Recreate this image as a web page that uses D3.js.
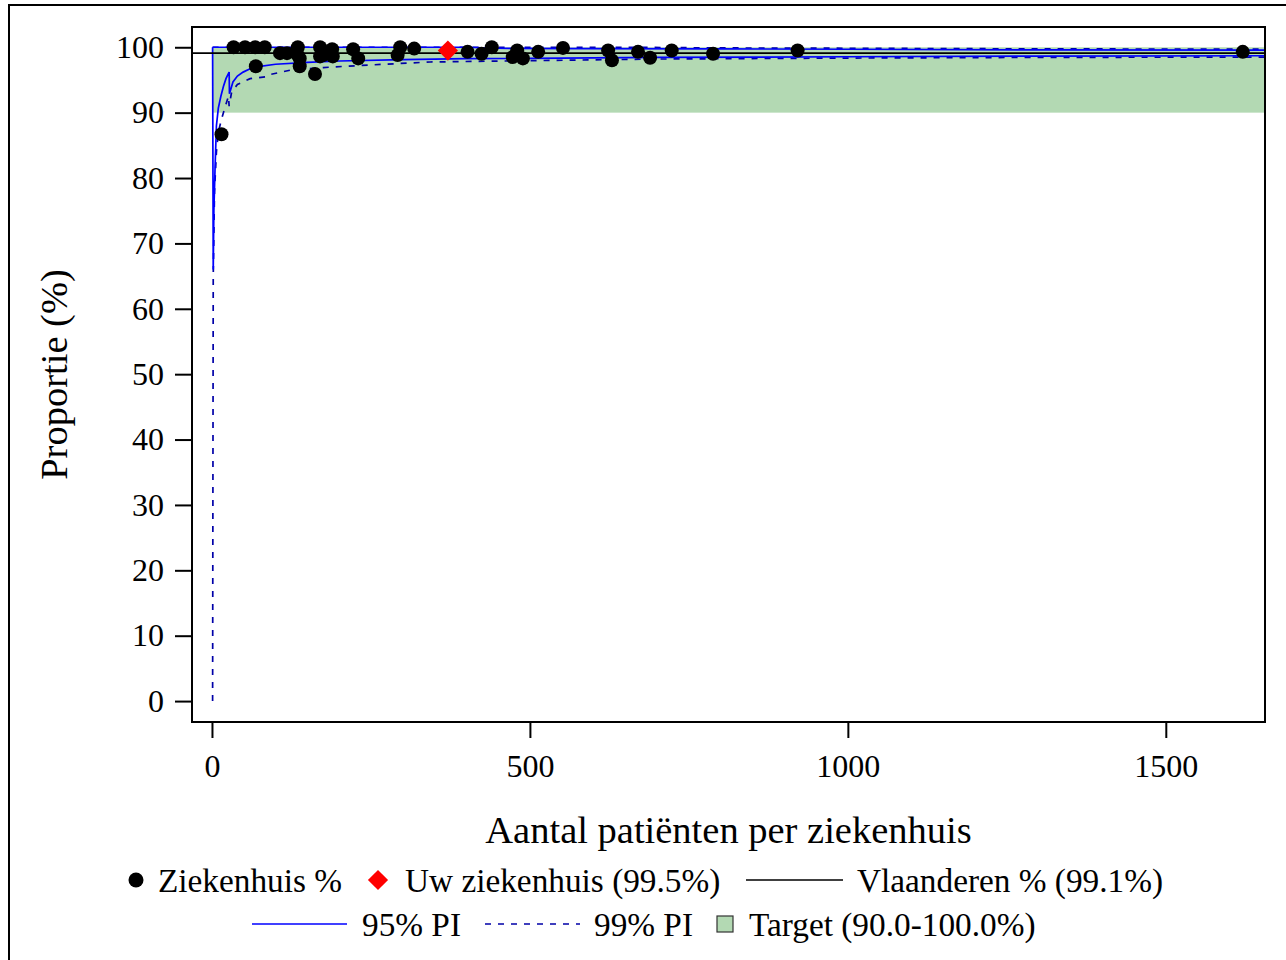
<!DOCTYPE html>
<html>
<head>
<meta charset="utf-8">
<script src="https://cdn.jsdelivr.net/npm/d3@7"></script>
<style>
  body { margin: 0; background: #fff; }
  svg, svg text { font-family: "Liberation Serif", "Times New Roman", serif; }
</style>
</head>
<body>
<div id="chart"></div>
<script>
// ── Data ─────────────────────────────────────────────────────────────────────
const hospitalN   = [15, 34, 52, 68, 83, 69, 107, 118, 135, 135, 138, 138, 162, 170, 170, 175, 189, 190,
                     222, 230, 292, 296, 318, 402, 424, 440, 480, 473, 489, 513, 552, 623, 629, 670,
                     689, 723, 788, 921, 1621];
const hospitalPct = [86.7, 100, 100, 100, 100, 97.1, 99.1, 99.1, 100, 98.8, 98.3, 97.1, 95.9, 100, 98.6, 98.8, 99.7, 98.6,
                     99.7, 98.3, 98.8, 100, 99.8, 99.3, 99.0, 100, 99.5, 98.5, 98.3, 99.3, 99.9, 99.5, 98.0, 99.3,
                     98.4, 99.5, 99.0, 99.5, 99.3];

const ownHospital = { n: 371, pct: 99.5 };
const flandersPct = 99.1;
const targetRange = [90, 100];

// prediction limits, sampled along n
const lower95N   = [1, 2, 3, 5, 7, 10, 14, 18, 22, 27, 27.5, 33, 40, 49, 60, 70, 100, 150, 200, 300, 400, 500, 700, 1000, 1300, 1656];
const lower95Pct = [100, 66, 75, 82, 88, 90.7, 92.5, 94.0, 95.2, 96.2, 92.9, 94.7, 95.6, 96.2, 96.7, 97.0, 97.4, 97.7, 97.9, 98.1, 98.25, 98.3, 98.45, 98.55, 98.65, 98.7];

const lower99N   = [1, 2, 4, 7, 10, 15, 18, 23, 26, 27, 31, 40, 60, 86, 90, 123, 175, 250, 343, 500, 700, 1000, 1300, 1656];
const lower99Pct = [0, 65, 78, 84, 87, 89, 90, 91.6, 92.5, 91, 93.2, 94.3, 95.2, 95.5, 95.8, 96.5, 96.9, 97.3, 97.75, 97.95, 98.2, 98.35, 98.45, 98.5];

const upper95N   = [1, 400, 450, 600, 800, 1000, 1300, 1656];
const upper95Pct = [100, 100, 99.85, 99.8, 99.75, 99.7, 99.6, 99.55];

const upper99N   = [1, 650, 800, 1000, 1300, 1656];
const upper99Pct = [100, 100, 99.9, 99.85, 99.75, 99.72];

const xTicks = [0, 500, 1000, 1500];
const yTicks = [0, 10, 20, 30, 40, 50, 60, 70, 80, 90, 100];

const xTitle = 'Aantal patiënten per ziekenhuis';
const yTitle = 'Proportie (%)';

// ── Layout ───────────────────────────────────────────────────────────────────
const W = 1286, H = 960;
const plot = { left: 192, right: 1265, top: 27, bottom: 722 };
const SERIF = '"Liberation Serif", "Times New Roman", serif';

const BLUE = '#0000ff';
const NAVY = '#0000a8';
const GREEN = '#b3d9b3';

const svg = d3.select('#chart').append('svg')
  .attr('width', W)
  .attr('height', H);

// outer frame (runs off the right and bottom edges)
svg.append('rect')
  .attr('x', 9).attr('y', 5)
  .attr('width', 1300).attr('height', 1000)
  .attr('fill', 'none')
  .attr('stroke', '#000')
  .attr('stroke-width', 2);

const x = d3.scaleLinear().domain([-31.4, 1656]).range([plot.left, plot.right]);
const y = d3.scaleLinear().domain([-3.2, 103.1]).range([plot.bottom, plot.top]);

const defs = svg.append('defs');
defs.append('clipPath').attr('id', 'clip')
  .append('rect')
  .attr('x', plot.left).attr('y', plot.top)
  .attr('width', plot.right - plot.left).attr('height', plot.bottom - plot.top);

const g = svg.append('g').attr('clip-path', 'url(#clip)');

// target band
g.append('rect')
  .attr('x', x(0))
  .attr('y', y(targetRange[1]))
  .attr('width', x(x.domain()[1]) - x(0))
  .attr('height', y(targetRange[0]) - y(targetRange[1]))
  .attr('fill', GREEN);

// ── Prediction limits ────────────────────────────────────────────────────────
const line = d3.line().x(d => x(d[0])).y(d => y(d[1]));

const limits = [
  { pts: d3.zip(upper99N, upper99Pct), color: NAVY, dash: '6,7' },
  { pts: d3.zip(lower99N, lower99Pct), color: NAVY, dash: '6,7' },
  { pts: d3.zip(upper95N, upper95Pct), color: BLUE, dash: null },
  { pts: d3.zip(lower95N, lower95Pct), color: BLUE, dash: null }
];

g.selectAll('path.limit')
  .data(limits)
  .join('path')
  .attr('class', 'limit')
  .attr('d', d => line(d.pts))
  .attr('fill', 'none')
  .attr('stroke', d => d.color)
  .attr('stroke-width', 1.7)
  .attr('stroke-dasharray', d => d.dash);

// Flanders average
g.append('line')
  .attr('x1', plot.left).attr('x2', plot.right)
  .attr('y1', y(flandersPct)).attr('y2', y(flandersPct))
  .attr('stroke', '#000')
  .attr('stroke-width', 1.6);

// hospitals
g.selectAll('circle.hosp')
  .data(d3.zip(hospitalN, hospitalPct))
  .join('circle')
  .attr('class', 'hosp')
  .attr('cx', d => x(d[0]))
  .attr('cy', d => y(d[1]))
  .attr('r', 7)
  .attr('fill', '#000');

// own hospital (diamond)
const diamond = d3.symbol().type(d3.symbolDiamond2).size(260);
g.append('path')
  .attr('d', diamond())
  .attr('transform', `translate(${x(ownHospital.n)},${y(ownHospital.pct)})`)
  .attr('fill', '#ff0000');

// ── Axes ─────────────────────────────────────────────────────────────────────
svg.append('rect')
  .attr('x', plot.left).attr('y', plot.top)
  .attr('width', plot.right - plot.left).attr('height', plot.bottom - plot.top)
  .attr('fill', 'none')
  .attr('stroke', '#000')
  .attr('stroke-width', 2);

const xAxis = svg.append('g')
  .attr('transform', `translate(0,${plot.bottom})`)
  .call(d3.axisBottom(x).tickValues(xTicks).tickSize(16).tickPadding(16).tickFormat(d3.format('d')));
const yAxis = svg.append('g')
  .attr('transform', `translate(${plot.left},0)`)
  .call(d3.axisLeft(y).tickValues(yTicks).tickSize(17).tickPadding(11).tickFormat(d3.format('d')));

[xAxis, yAxis].forEach(ax => {
  ax.attr('font-family', null).attr('font-size', null);
  ax.select('.domain').remove();
  ax.selectAll('.tick line').attr('stroke', '#000').attr('stroke-width', 2);
  ax.selectAll('.tick text')
    .attr('fill', '#000')
    .style('font-family', SERIF)
    .style('font-size', '32px');
});

svg.append('text')
  .attr('x', (plot.left + plot.right) / 2)
  .attr('y', 843)
  .attr('text-anchor', 'middle')
  .attr('font-size', 38.5)
  .text(xTitle);

svg.append('text')
  .attr('transform', `translate(67,${(plot.top + plot.bottom) / 2}) rotate(-90)`)
  .attr('text-anchor', 'middle')
  .attr('font-size', 38.5)
  .text(yTitle);

// ── Legend ───────────────────────────────────────────────────────────────────
const leg = svg.append('g').attr('font-size', 33.3);
const row1 = 880, row2 = 924;

leg.append('circle').attr('cx', 136).attr('cy', row1).attr('r', 7.5).attr('fill', '#000');
leg.append('text').attr('x', 158).attr('y', row1 + 12).text('Ziekenhuis %');

leg.append('path')
  .attr('d', diamond())
  .attr('transform', `translate(378,${row1})`)
  .attr('fill', '#ff0000');
leg.append('text').attr('x', 405).attr('y', row1 + 12).text('Uw ziekenhuis (99.5%)');

leg.append('line').attr('x1', 746).attr('x2', 843).attr('y1', row1).attr('y2', row1)
  .attr('stroke', '#000').attr('stroke-width', 1.6);
leg.append('text').attr('x', 857).attr('y', row1 + 12).text('Vlaanderen % (99.1%)');

leg.append('line').attr('x1', 252).attr('x2', 347).attr('y1', row2).attr('y2', row2)
  .attr('stroke', BLUE).attr('stroke-width', 1.7);
leg.append('text').attr('x', 362).attr('y', row2 + 12).text('95% PI');

leg.append('line').attr('x1', 485).attr('x2', 580).attr('y1', row2).attr('y2', row2)
  .attr('stroke', NAVY).attr('stroke-width', 1.7).attr('stroke-dasharray', '6,7');
leg.append('text').attr('x', 594).attr('y', row2 + 12).text('99% PI');

leg.append('rect').attr('x', 717).attr('y', row2 - 8).attr('width', 16).attr('height', 16)
  .attr('fill', GREEN).attr('stroke', '#333').attr('stroke-width', 1.2);
leg.append('text').attr('x', 749).attr('y', row2 + 12).text('Target (90.0-100.0%)');
</script>
</body>
</html>
